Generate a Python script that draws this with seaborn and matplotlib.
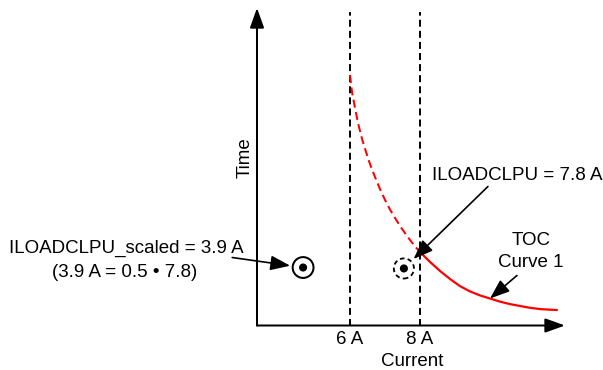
import numpy as np
import matplotlib
matplotlib.use("Agg")
import matplotlib.pyplot as plt
from matplotlib.patches import ArrowStyle
import seaborn as sns

# ---------------- data ----------------
# TOC curve 1, dashed part (below the pickup, 6 A .. 8 A)
toc_dash_x = [6.000, 6.057, 6.143, 6.229, 6.343, 6.457, 6.571, 6.714, 6.857,
              7.000, 7.143, 7.286, 7.429, 7.571, 7.714, 7.857, 8.000]
toc_dash_t = [80.8, 75.3, 70.2, 65.3, 60.2, 56.0, 52.1, 47.9, 44.0,
              40.5, 37.4, 34.7, 32.1, 29.8, 27.6, 25.5, 23.7]
# solid part (above the pickup)
toc_solid_x = [8.000, 8.286, 8.571, 8.857, 9.143, 9.429, 9.714, 10.000,
               10.286, 10.571, 10.857, 11.143, 11.429, 11.714, 11.914]
toc_solid_t = [23.7, 20.5, 17.6, 15.0, 12.7, 11.0, 9.7, 8.7,
               7.7, 6.9, 6.3, 5.7, 5.3, 5.1, 5.0]

# vertical reference lines and tick labels
ref_lines = [6, 8]
tick_labels = ["6 A", "8 A"]

# operating points (schematic positions on the drawing)
scaled_pt = (4.66, 18.7)   # ILOADCLPU_scaled = 3.9 A
pickup_pt = (7.54, 18.4)   # ILOADCLPU = 7.8 A

x_range = (3.343, 12.143)
t_range = (0, 102.4)

# ---------------- figure ----------------
sns.set_style("white")
plt.rcParams['font.family'] = ['Liberation Sans', 'DejaVu Sans']
plt.rcParams['font.size'] = 13.5
plt.rcParams['text.color'] = 'black'
plt.rcParams['axes.labelcolor'] = 'black'
plt.rcParams['xtick.color'] = 'black'

W, H = 603, 370
fig = plt.figure(figsize=(W / 100, H / 100), dpi=100)
ax = fig.add_axes([257 / W, (H - 325.5) / H, (565 - 257) / W, (325.5 - 8) / H])
ax.set_xlim(*x_range)
ax.set_ylim(*t_range)
for s in ax.spines.values():
    s.set_visible(False)
ax.set_yticks([])
ax.set_xticks(ref_lines)
ax.set_xticklabels(tick_labels)
ax.tick_params(axis='x', length=0, pad=4.3, labelsize=13.5)

# axes with arrow heads
axis_arrow = ArrowStyle('-|>', head_length=1.2, head_width=0.43)
for end in [(1, 0), (0, 1)]:
    ax.annotate('', xy=end, xytext=(0, 0), xycoords='axes fraction',
                textcoords='axes fraction',
                arrowprops=dict(arrowstyle=axis_arrow, mutation_scale=10, lw=1.45,
                                color='black', shrinkA=0, shrinkB=0),
                annotation_clip=False)

ax.set_xlabel("Current")
ax.xaxis.set_label_coords(0.503, -0.087)
ax.set_ylabel("Time")
ax.yaxis.set_label_coords(-0.01, 0.528)

# dashed 6 A / 8 A lines
ax.vlines(ref_lines, 0, 101.0, colors='black', lw=1.4, linestyles=(0, (3.6, 2.1)))

# TOC curve
sns.lineplot(x=toc_dash_x, y=toc_dash_t, ax=ax, color='red', lw=1.45,
             linestyle=(0, (4, 2.2)), estimator=None, sort=False)
sns.lineplot(x=toc_solid_x, y=toc_solid_t, ax=ax, color='red', lw=1.6,
             estimator=None, sort=False)

# markers
ax.scatter([scaled_pt[0]], [scaled_pt[1]], s=225, facecolors='none',
           edgecolors='black', linewidths=1.45, zorder=5)
ax.scatter([pickup_pt[0]], [pickup_pt[1]], s=210, facecolors='none',
           edgecolors='black', linewidths=1.3, linestyle=(0, (2.5, 1.8)), zorder=5)
sns.scatterplot(x=[scaled_pt[0], pickup_pt[0]], y=[scaled_pt[1], pickup_pt[1]],
                ax=ax, s=34, color='black', edgecolor='none', zorder=6)

# callouts
small_arrow = ArrowStyle('-|>', head_length=1.2, head_width=0.45)
aprops = dict(arrowstyle=small_arrow, mutation_scale=10, lw=1.2, color='black',
              shrinkA=0)
ax.annotate('', xy=scaled_pt, xytext=(-51, 7.2), textcoords='offset points',
            arrowprops=dict(aprops, shrinkB=9.4), annotation_clip=False)
ax.annotate('', xy=pickup_pt, xytext=(60.5, 59), textcoords='offset points',
            arrowprops=dict(aprops, shrinkB=9.7), annotation_clip=False)
ax.annotate('', xy=(toc_solid_x[7], toc_solid_t[7]), xytext=(19.4, 16.6),
            textcoords='offset points', arrowprops=dict(aprops, shrinkB=0),
            annotation_clip=False)

def ftext(px, py, s, ha='center'):
    fig.text(px / W, 1 - py / H, s, ha=ha, va='baseline', fontsize=13.5)

ftext(432, 180, "ILOADCLPU = 7.8 A", ha='left')
ftext(126, 253, "ILOADCLPU_scaled = 3.9 A")
ftext(125, 277, "(3.9 A = 0.5 \u2022 7.8)")
ftext(531, 245, "TOC")
ftext(531, 267, "Curve 1")

fig.savefig("out.png", dpi=100)
